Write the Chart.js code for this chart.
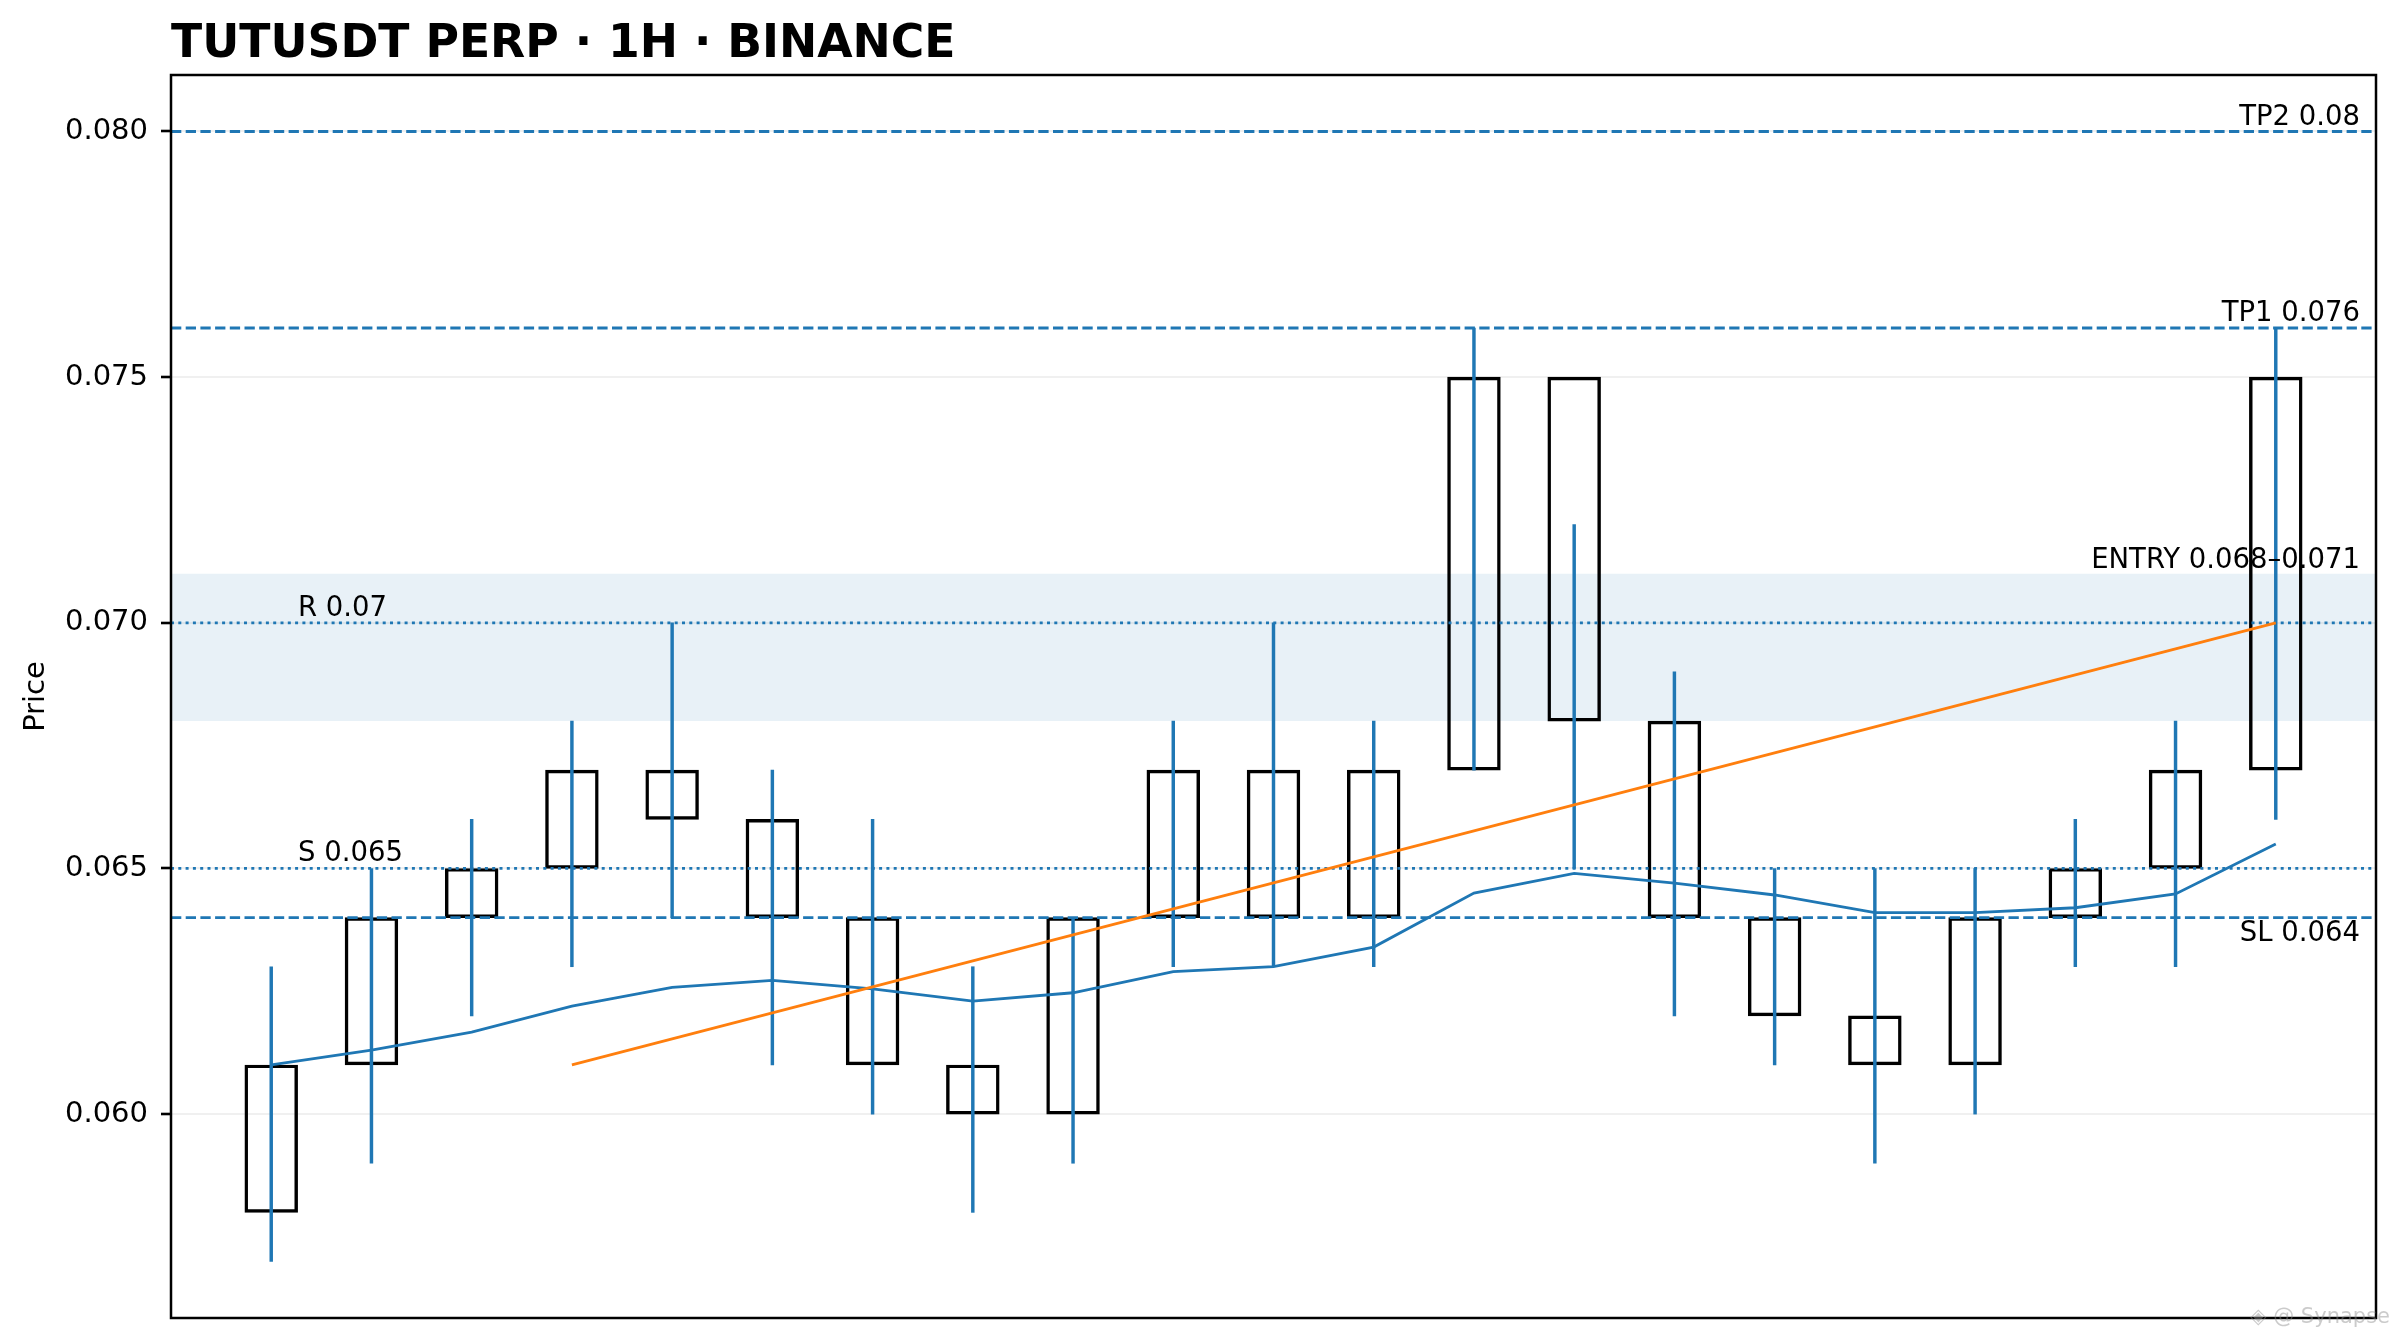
<!DOCTYPE html>
<html><head><meta charset="utf-8">
<script src="https://cdn.jsdelivr.net/npm/chart.js@4.4.1/dist/chart.umd.min.js"></script>
<style>html,body{margin:0;padding:0;background:#fff;} #wrap{width:2397px;height:1342px;position:relative;}</style>
</head><body><div id="wrap"><canvas id="c" width="2397" height="1342"></canvas></div>
<script>
// ---- data ----
const candleX  = [0,1,2,3,4,5,6,7,8,9,10,11,12,13,14,15,16,17,18,19,20];
const bodyLow  = [0.058,0.061,0.064,0.065,0.066,0.064,0.061,0.060,0.060,0.064,0.064,0.064,0.067,0.068,0.064,0.062,0.061,0.061,0.064,0.065,0.067];
const bodyHigh = [0.061,0.064,0.065,0.067,0.067,0.066,0.064,0.061,0.064,0.067,0.067,0.067,0.075,0.075,0.068,0.064,0.062,0.064,0.065,0.067,0.075];
const wickLow  = [0.057,0.059,0.062,0.063,0.064,0.061,0.060,0.058,0.059,0.063,0.063,0.063,0.067,0.065,0.062,0.061,0.059,0.060,0.063,0.063,0.066];
const wickHigh = [0.063,0.065,0.066,0.068,0.070,0.067,0.066,0.063,0.064,0.068,0.070,0.068,0.076,0.072,0.069,0.065,0.065,0.065,0.066,0.068,0.076];
const emaValues = [0.0610,0.0613,0.06167,0.0622,0.06258,0.06272,0.06255,0.0623,0.06247,0.0629,0.0630,0.0634,0.0645,0.0649,0.0647,0.06446,0.0641,0.0641,0.0642,0.06448,0.0655];
const trendX = [3, 20];
const trendY = [0.061, 0.070];
const dashedLevels = [0.080, 0.076, 0.064];          // TP2, TP1, SL
const dashedLabels = ['TP2 0.08', 'TP1 0.076', 'SL 0.064'];
const dottedLevels = [0.070, 0.065];                 // R, S
const dottedLabels = ['R 0.07', 'S 0.065'];
const entryZone = [0.068, 0.071];
const entryLabel = 'ENTRY 0.068\u20130.071';
const yTicks = [0.060, 0.065, 0.070, 0.075, 0.080];
const xRange = [-1, 21];
const yRange = [0.05585, 0.08115];
const titleText = 'TUTUSDT PERP \u00b7 1H \u00b7 BINANCE';

// ---- styles ----
const BLUE = '#1f77b4', ORANGE = '#ff7f0e';
const FONT = '"DejaVu Sans", "Liberation Sans", sans-serif';
const LW = 2.8;
Chart.defaults.font.family = FONT;

const hline = (v) => [{x: xRange[0], y: v}, {x: xRange[1], y: v}];

const datasets = [];
// entry zone band
datasets.push({type:'line', data: hline(entryZone[1]), fill: '+1', backgroundColor: 'rgba(31,119,180,0.1)',
  borderWidth: 0, pointRadius: 0, order: 20});
datasets.push({type:'line', data: hline(entryZone[0]), fill: false, borderWidth: 0, pointRadius: 0, order: 21});
// candle bodies
datasets.push({type:'bar', xAxisID:'x', grouped:false, data: candleX.map((x,i)=>({x, y:[bodyLow[i], bodyHigh[i]]})),
  backgroundColor:'rgba(0,0,0,0)', borderColor:'#000', borderWidth: LW, borderSkipped:false,
  barThickness: 52.8, order: 8});
// wicks
datasets.push({type:'bar', xAxisID:'xw', grouped:false, data: candleX.map((x,i)=>({x, y:[wickLow[i], wickHigh[i]]})),
  backgroundColor: BLUE, borderWidth: 0, barThickness: LW, order: 7});
// dashed levels
dashedLevels.forEach(v => datasets.push({type:'line', data: hline(v), borderColor: BLUE, borderWidth: LW,
  borderDash:[10.3, 4.4], pointRadius: 0, fill:false, order: 5}));
dottedLevels.forEach(v => datasets.push({type:'line', data: hline(v), borderColor: BLUE, borderWidth: LW,
  borderDash:[3, 4.3], pointRadius: 0, fill:false, order: 5}));
// EMA
datasets.push({type:'line', data: candleX.map((x,i)=>({x, y: emaValues[i]})), borderColor: BLUE,
  borderWidth: LW, pointRadius: 0, tension: 0, fill:false, order: 3});
// trend
datasets.push({type:'line', data: trendX.map((x,i)=>({x, y: trendY[i]})), borderColor: ORANGE,
  borderWidth: LW, pointRadius: 0, tension: 0, fill:false, order: 2});

const deco = {
  id: 'deco',
  afterDatasetsDraw(chart) {
    const {ctx, chartArea: a, scales: {y}} = chart;
    ctx.save();
    ctx.fillStyle = '#000';
    ctx.font = '27.5px ' + FONT;
    ctx.textBaseline = 'alphabetic';
    ctx.textAlign = 'right';
    const rx = a.right - 16;
    ctx.fillText(dashedLabels[0], rx, y.getPixelForValue(dashedLevels[0]) - 7);
    ctx.fillText(dashedLabels[1], rx, y.getPixelForValue(dashedLevels[1]) - 7);
    ctx.fillText(dashedLabels[2], rx, y.getPixelForValue(dashedLevels[2]) + 23);
    ctx.fillText(entryLabel, rx, y.getPixelForValue(entryZone[1]) - 6);
    ctx.textAlign = 'left';
    const lx = a.left + 127;
    ctx.fillText(dottedLabels[0], lx, y.getPixelForValue(dottedLevels[0]) - 7);
    ctx.fillText(dottedLabels[1], lx, y.getPixelForValue(dottedLevels[1]) - 7);
    ctx.restore();
  },
  afterDraw(chart) {
    const {ctx, chartArea: a} = chart;
    ctx.save();
    // frame
    ctx.strokeStyle = '#000';
    ctx.lineWidth = 2.5;
    ctx.strokeRect(a.left, a.top, a.right - a.left, a.bottom - a.top);
    // title
    ctx.fillStyle = '#000';
    ctx.font = 'bold 45.7px ' + FONT;
    ctx.textAlign = 'left';
    ctx.textBaseline = 'alphabetic';
    ctx.fillText(titleText, a.left, 57);
    // watermark
    ctx.fillStyle = 'rgba(140,140,140,0.45)';
    ctx.font = '21px ' + FONT;
    ctx.textAlign = 'right';
    ctx.textBaseline = 'middle';
    ctx.fillText('\u25c8 @ Synapse', 2390, 1318);
    ctx.restore();
  }
};

new Chart(document.getElementById('c'), {
  data: { datasets },
  options: {
    responsive: false, animation: false, devicePixelRatio: 1,
    layout: { padding: { left: 0, right: 21, top: 75, bottom: 24 } },
    plugins: { legend: {display:false}, tooltip: {enabled:false}, title: {display:false} },
    scales: {
      x:  { type:'linear', min: xRange[0], max: xRange[1], display: false, offset: false, grid:{offset:false} },
      xw: { type:'linear', min: xRange[0], max: xRange[1], display: false, offset: false, grid:{offset:false} },
      y: {
        type:'linear', min: yRange[0], max: yRange[1], position:'left',
        afterFit: s => { s.width = 171; s.paddingTop = 0; s.paddingBottom = 0; },
        afterBuildTicks: s => { s.ticks = yTicks.map(v => ({value: v})); },
        ticks: { color:'#000', font:{size: 29}, padding: 13, callback: v => v.toFixed(3) },
        grid: { color:'rgba(0,0,0,0.06)', lineWidth: 2, tickColor:'#000', tickWidth: 2.6, tickLength: 10 },
        border: { display: false },
        title: { display: true, text: 'Price', color:'#000', font:{size: 29}, padding:{top: 19, bottom: 0} }
      }
    }
  },
  plugins: [deco]
});
</script></body></html>
